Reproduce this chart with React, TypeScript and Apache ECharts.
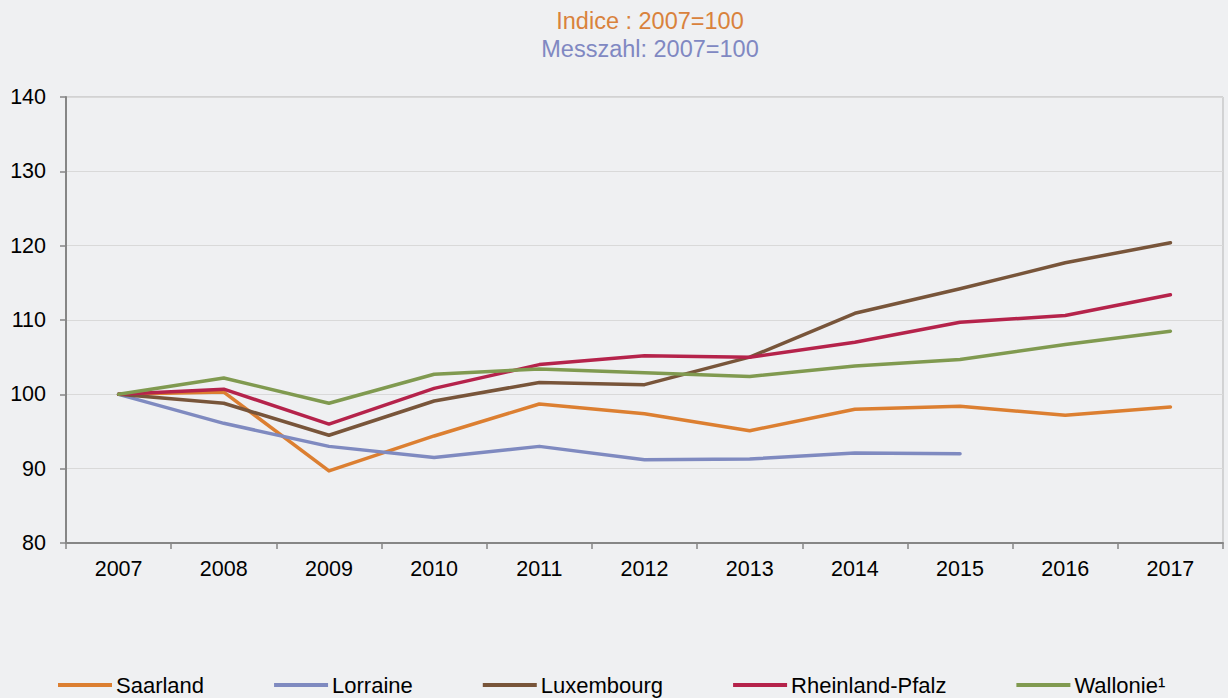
import React, { useEffect, useRef } from "react";
import * as echarts from "echarts";

const years = ["2007", "2008", "2009", "2010", "2011", "2012", "2013", "2014", "2015", "2016", "2017"];
const saarland = [100, 100.3, 89.7, 94.4, 98.7, 97.4, 95.1, 98.0, 98.4, 97.2, 98.3];
const lorraine: (number | null)[] = [100, 96.1, 93.0, 91.5, 93.0, 91.2, 91.3, 92.1, 92.0, null, null];
const luxembourg = [100, 98.8, 94.5, 99.1, 101.6, 101.3, 105.0, 110.9, 114.2, 117.7, 120.4];
const rheinlandPfalz = [100, 100.7, 96.0, 100.8, 104.0, 105.2, 105.0, 107.0, 109.7, 110.6, 113.4];
const wallonie = [100, 102.2, 98.8, 102.7, 103.4, 102.9, 102.4, 103.8, 104.7, 106.7, 108.5];

const seriesNames = ["Saarland", "Lorraine", "Luxembourg", "Rheinland-Pfalz", "Wallonie¹"];
const seriesData = [saarland, lorraine, luxembourg, rheinlandPfalz, wallonie];
const seriesColors = ["#DC7F31", "#7F8AC0", "#78553A", "#B5234B", "#809A50"];

const titleLine1 = "Indice : 2007=100";
const titleLine2 = "Messzahl: 2007=100";

const FONT = "'Liberation Sans', Arial, sans-serif";

export default function App() {
  const ref = useRef<HTMLDivElement>(null);
  useEffect(() => {
    document.body.style.margin = "0";
    document.body.style.background = "#eff0f2";
    const chart = echarts.init(ref.current!, null, { renderer: "svg" });
    chart.setOption({
      animation: false,
      backgroundColor: "#eff0f2",
      textStyle: { fontFamily: FONT },
      graphic: [
        {
          type: "text",
          x: 650,
          y: 21,
          style: { text: titleLine1, fill: "#D9823C", font: `23.5px ${FONT}`, textAlign: "center", textVerticalAlign: "middle" },
        },
        {
          type: "text",
          x: 650,
          y: 49,
          style: { text: titleLine2, fill: "#8088C2", font: `23.5px ${FONT}`, textAlign: "center", textVerticalAlign: "middle" },
        },
      ],
      grid: {
        left: 66,
        right: 5,
        top: 97,
        bottom: 155,
        show: true,
        borderColor: "#b5b5b5",
        borderWidth: 1,
      },
      legend: {
        top: 669,
        left: 53,
        itemWidth: 54,
        itemHeight: 4,
        itemGap: 70,
        icon: "rect",
        textStyle: { fontSize: 22, color: "#000", fontFamily: FONT, padding: [0, 0, 0, -1] },
        data: seriesNames,
      },
      xAxis: {
        type: "category",
        data: years,
        boundaryGap: true,
        axisLine: { lineStyle: { color: "#868686", width: 2 } },
        axisTick: { show: true, length: 6, lineStyle: { color: "#868686", width: 1.5 } },
        axisLabel: { color: "#000", fontSize: 21.5, margin: 15, fontFamily: FONT },
        splitLine: { show: false },
      },
      yAxis: {
        type: "value",
        min: 80,
        max: 140,
        interval: 10,
        axisLine: { show: true, lineStyle: { color: "#868686", width: 2 } },
        axisTick: { show: true, length: 6, lineStyle: { color: "#868686", width: 1.5 } },
        axisLabel: { color: "#000", fontSize: 21.5, margin: 20, fontFamily: FONT },
        splitLine: { lineStyle: { color: "#d9d9d9", width: 1 } },
      },
      series: seriesNames.map((name, i) => ({
        name,
        type: "line",
        data: seriesData[i],
        symbol: "none",
        connectNulls: false,
        color: seriesColors[i],
        lineStyle: { width: 3.5, color: seriesColors[i], cap: "round", join: "round" },
      })),
    });
    return () => chart.dispose();
  }, []);
  return <div ref={ref} style={{ width: 1228, height: 698, background: "#eff0f2" }} />;
}
